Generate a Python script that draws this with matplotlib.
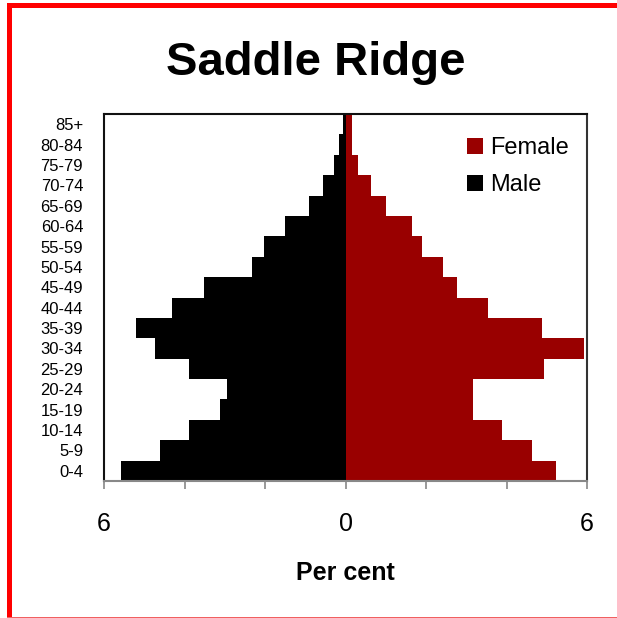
import matplotlib
matplotlib.use("Agg")
import matplotlib.pyplot as plt
from matplotlib.patches import Rectangle, Patch
import numpy as np

plt.rcParams['font.family'] = ['Liberation Sans', 'DejaVu Sans']

age_groups = ['0-4', '5-9', '10-14', '15-19', '20-24', '25-29', '30-34', '35-39',
              '40-44', '45-49', '50-54', '55-59', '60-64', '65-69', '70-74',
              '75-79', '80-84', '85+']
male = [5.59, 4.62, 3.88, 3.13, 2.95, 3.88, 4.73, 5.21, 4.32, 3.51, 2.32, 2.02,
        1.51, 0.91, 0.55, 0.28, 0.15, 0.05]
female = [5.22, 4.63, 3.89, 3.18, 3.18, 4.92, 5.92, 4.88, 3.55, 2.77, 2.41, 1.89,
          1.66, 1.00, 0.63, 0.30, 0.15, 0.15]
x_ticks = [-6, -4, -2, 0, 2, 4, 6]
x_tick_labels = ['6', '', '', '0', '', '', '6']

female_color = '#990000'
male_color = '#000000'

W, H = 617, 618
fig = plt.figure(figsize=(W / 100, H / 100), dpi=100)
ax = fig.add_axes([104 / W, 1 - 481 / H, (587 - 104) / W, (481 - 114) / H])

y = np.arange(len(age_groups))
ax.barh(y, [-m for m in male], height=1.0, color=male_color, linewidth=0)
ax.barh(y, female, height=1.0, color=female_color, linewidth=0)

ax.set_xlim(-6, 6)
ax.set_ylim(-0.5, len(age_groups) - 0.5)
ax.set_yticks(y)
ax.set_yticklabels(age_groups, fontsize=12)
ax.tick_params(axis='y', length=0, pad=15)
ax.set_xticks(x_ticks)
ax.set_xticklabels(x_tick_labels, fontsize=18)
ax.tick_params(axis='x', length=6, width=1.2, color='#888888', pad=16)
ax.set_xlabel('Per cent', fontsize=18, fontweight='bold', labelpad=18)

for side in ['left', 'top']:
    ax.spines[side].set_color('#111111')
    ax.spines[side].set_linewidth(1.5)
ax.spines['right'].set_color('#333333')
ax.spines['right'].set_linewidth(1.5)
ax.spines['bottom'].set_color('#888888')
ax.spines['bottom'].set_linewidth(1.5)

handles = [Patch(facecolor=female_color, label='Female'),
           Patch(facecolor=male_color, label='Male')]
fig.legend(handles=handles, loc='upper left', bbox_to_anchor=(458 / W, 1 - 128 / H),
           frameon=False, fontsize=17, handlelength=0.65, handleheight=0.65,
           handletextpad=0.3, labelspacing=0.62, borderaxespad=0)

fig.text(316 / W, 1 - 75 / H, 'Saddle Ridge', ha='center', va='baseline',
         fontsize=34, fontweight='bold')

# red frame
fig.add_artist(Rectangle((7 / W, 0), 5 / W, (H - 3) / H, transform=fig.transFigure,
                         facecolor='#ff0000', edgecolor='none'))
fig.add_artist(Rectangle((7 / W, 1 - 8 / H), (W - 7) / W, 5 / H, transform=fig.transFigure,
                         facecolor='#ff0000', edgecolor='none'))
fig.add_artist(Rectangle((7 / W, 0), (W - 7) / W, 1.5 / H, transform=fig.transFigure,
                         facecolor='#f06060', edgecolor='none'))

fig.savefig('out.png', dpi=100)
